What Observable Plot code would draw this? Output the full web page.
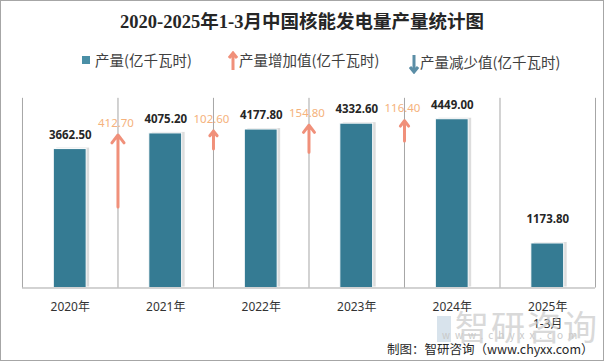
<!DOCTYPE html>
<html><head><meta charset="utf-8">
<script src="https://cdn.jsdelivr.net/npm/d3@7"></script>
<script src="https://cdn.jsdelivr.net/npm/@observablehq/plot@0.6"></script>
<style>
html,body{margin:0;padding:0;background:#fff;}
#wrap{position:relative;width:604px;height:361px;box-sizing:border-box;border:1px solid #a6a6a6;overflow:hidden;font-family:"Noto Sans CJK SC","Noto Sans",sans-serif;}
#chart{position:absolute;left:-1px;top:-1px;}
.t{position:absolute;white-space:nowrap;}
</style></head>
<body>
<div id="wrap">
  <div id="chart"></div>
  <div class="t" style="left:0;width:602px;top:6px;text-align:center;font-family:'Liberation Serif','Noto Sans CJK SC',serif;font-weight:bold;font-size:18.5px;color:#262626;">2020-2025年1-3月中国核能发电量产量统计图</div>
  <div class="t" style="left:81px;top:48px;font-size:14.5px;color:#404040;"><span style="display:inline-block;width:8px;height:8px;background:#4a8fa6;margin-right:5px;vertical-align:2px;"></span>产量(亿千瓦时)</div>
  <div class="t" style="left:227px;top:48px;font-size:14.5px;color:#404040;"><svg width="10" height="19" style="vertical-align:-4px;margin-right:1px"><path d="M5 19V3M1 7L5 2L9 7" stroke="#f0907a" stroke-width="3" fill="none"/></svg>产量增加值(亿千瓦时)</div>
  <div class="t" style="left:408px;top:50px;font-size:14.5px;color:#404040;"><svg width="10" height="19" style="vertical-align:-6px;margin-right:1px"><path d="M5 0V16M1 12L5 17L9 12" stroke="#5b8ea6" stroke-width="3" fill="none"/></svg>产量减少值(亿千瓦时)</div>
  <div class="t" style="left:436px;top:300px;font-size:34px;color:#c9c9c9;opacity:0.7;letter-spacing:2px;"><span style="display:inline-block;width:14px;height:26px;background:#c8d8e4;margin-right:4px;vertical-align:-2px;"></span>智研咨询</div>
  <div class="t" style="left:441px;top:326px;font-size:10px;color:#c9c9c9;letter-spacing:5px;">www.chyxx.com</div>
  <div class="t" style="left:386px;top:338px;font-size:12.5px;color:#262626;">制图：智研咨询（www.chyxx.com）</div>
</div>
<script>
const years = [2020, 2021, 2022, 2023, 2024, 2025];
const yearLabels = ["2020年", "2021年", "2022年", "2023年", "2024年", "2025年\n1-3月"];
const output = [3662.50, 4075.20, 4177.80, 4332.60, 4449.00, 1173.80];
const incYears = [2021, 2022, 2023, 2024];
const increase = [412.70, 102.60, 154.80, 116.40];

const bars = years.map((y, i) => ({year: y, value: output[i], label: yearLabels[i]}));
const nextVal = y => output[years.indexOf(y)];
const arrowScale = 4.6; // secondary-axis stretch for arrows
const arrows = incYears.map((y, i) => ({
  x: y - 0.5,
  tip: nextVal(y) - 40,
  tail: nextVal(y) - 40 - increase[i] * arrowScale,
  inc: increase[i]
}));
const half = 0.172;

const chart = Plot.plot({
  width: 604, height: 361,
  marginLeft: 22, marginRight: 8, marginTop: 98, marginBottom: 73,
  x: {domain: [2019.5, 2025.5], axis: null},
  y: {domain: [0, 5000], axis: null},
  style: {background: "transparent", fontFamily: "'Noto Sans', 'Noto Sans CJK SC', sans-serif"},
  marks: [
    Plot.rectY(bars, {x1: d => d.year - half, x2: d => d.year + half, y: "value", fill: "#cfcfcf", fillOpacity: 0.7, dx: 3, dy: -1}),
    Plot.rectY(bars, {x1: d => d.year - half, x2: d => d.year + half, y: "value", fill: "#357b93", stroke: "#fff", strokeWidth: 1}),
    Plot.ruleY([0], {x1: 2019.5, x2: 2025.5, stroke: "#a6a6a6"}),
    Plot.tickX(d3.range(2019.5, 2026, 1), {y1: 0, y2: -5 / 0.038, stroke: "#a6a6a6"}),
    Plot.text(bars, {x: "year", y: 0, text: "label", dy: 12, lineAnchor: "top", fontSize: 12, fill: "#333", lineHeight: 1.35}),
    Plot.text(bars.filter(d => d.year !== 2025), {x: "year", y: "value", text: d => d.value.toFixed(2), dy: -14, fontSize: 11.5, fontWeight: "bold", fill: "#262626"}),
    Plot.text(bars.filter(d => d.year === 2025), {x: "year", y: "value", text: d => d.value.toFixed(2), dy: -24, fontSize: 11.5, fontWeight: "bold", fill: "#262626"}),
    Plot.arrow(arrows, {x1: "x", x2: "x", y1: "tail", y2: "tip", stroke: "#f0907a", strokeWidth: 3, headLength: 5, headAngle: 75}),
    Plot.text(arrows, {x: "x", y: "tip", text: d => d.inc.toFixed(2), dy: -12, dx: -2, fontSize: 11.5, fill: "#f5b27c"})
  ]
});
document.getElementById("chart").appendChild(chart);
</script>
</body></html>
